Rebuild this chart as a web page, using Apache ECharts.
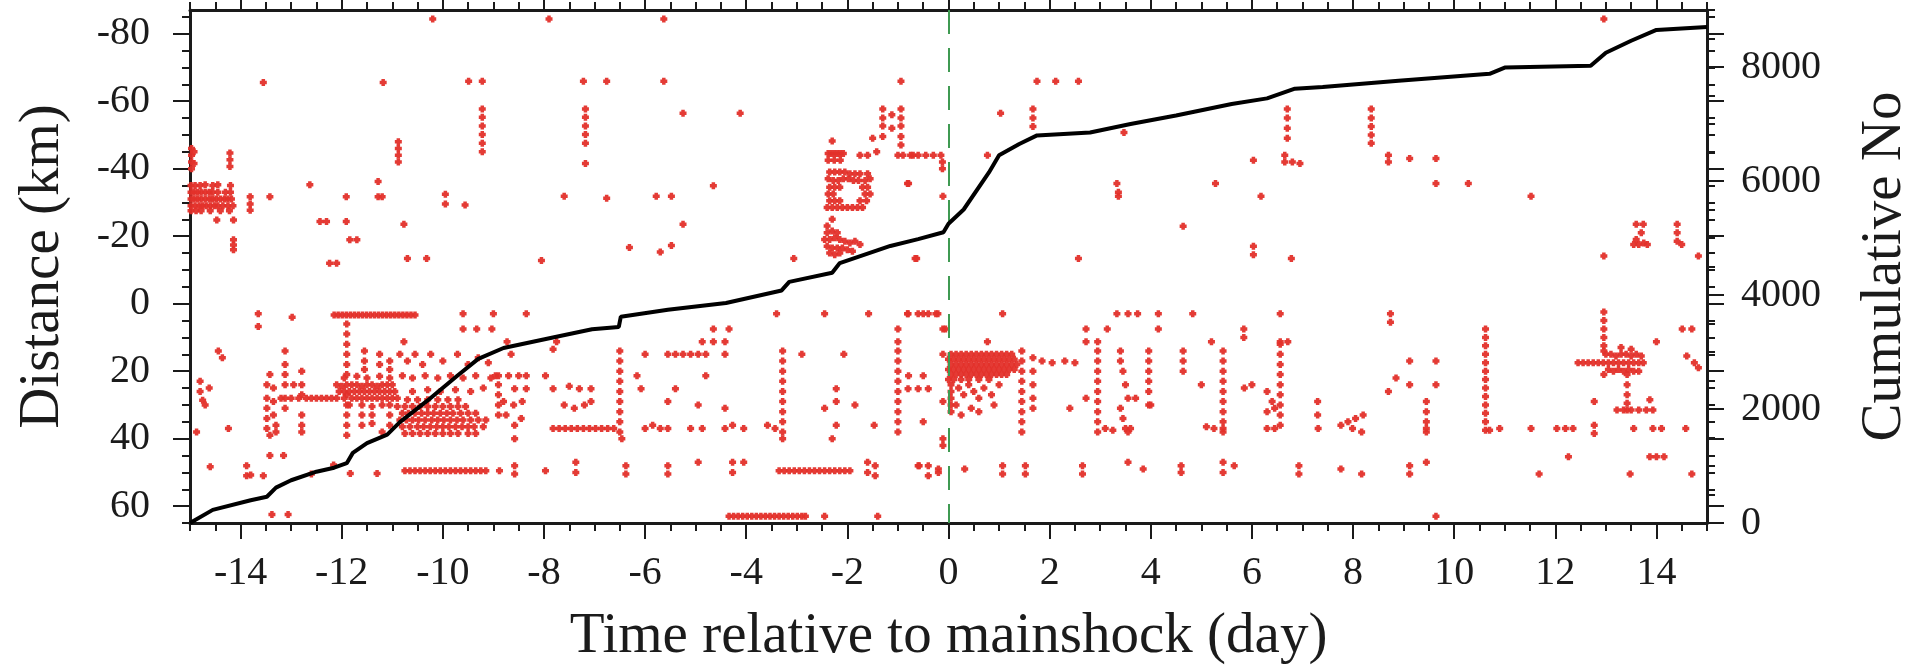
<!DOCTYPE html>
<html>
<head>
<meta charset="utf-8">
<script src="https://cdn.jsdelivr.net/npm/echarts@6/dist/echarts.min.js"></script>
<style>html,body{margin:0;padding:0;background:#fff}#c{width:1907px;height:668px}</style>
</head>
<body>
<div id="c"></div>
<script>
// ---- tick labels ----
const dayTicks = [-14,-12,-10,-8,-6,-4,-2,0,2,4,6,8,10,12,14];
const distTicks = [-80,-60,-40,-20,0,20,40,60];
const distMinorTicks = [-85,-80,-75,-70,-65,-60,-55,-50,-45,-40,-35,-30,-25,-20,-15,-10,-5,0,5,10,15,20,25,30,35,40,45,50,55,60,65];
const countTicks = [0,2000,4000,6000,8000];

// ---- cumulative number of events ----
const cumDays   = [-15,-14.55,-13.8,-13.48,-13.3,-13.0,-12.5,-12.15,-11.9,-11.78,-11.5,-11.1,-10.85,-10.3,-9.72,-9.3,-8.8,-7.8,-7.05,-6.52,-6.48,-5.55,-4.4,-3.3,-3.15,-2.3,-2.15,-1.15,-0.6,-0.1,0.0,0.3,0.8,1.0,1.4,1.75,2.8,3.6,4.5,5.6,6.3,6.85,7.4,8.9,10.7,11.0,12.7,13.0,13.5,14.0,15];
const cumCounts = [0,230,400,460,620,750,900,970,1050,1230,1400,1550,1770,2150,2580,2880,3070,3260,3400,3440,3620,3740,3860,4080,4230,4390,4560,4860,4980,5100,5250,5500,6150,6450,6650,6800,6850,7000,7150,7350,7450,7620,7650,7760,7880,7990,8020,8250,8460,8650,8700];

// ---- events [day, distance km] ----
const eventsWestUpper = [
[-13.55,-65.5],[-11.18,-65.5],[-10.2,-84.3],[-9.49,-65.9],[-9.22,-65.9],
[-14.97,-46],[-14.97,-44],[-14.97,-42],[-14.97,-40],[-14.92,-45],[-14.92,-41.5],
[-14.21,-44.6],[-14.21,-42.6],[-14.21,-40.6],
[-14.98,-35],[-14.9,-35],[-14.8,-35],[-14.7,-35.2],[-14.55,-35],[-14.45,-35.2],[-14.2,-35],
[-14.98,-33],[-14.92,-33],[-14.85,-33],[-14.78,-33],[-14.7,-33],[-14.62,-33],[-14.55,-33],[-14.45,-33],[-14.3,-33],[-14.2,-33],
[-14.98,-31],[-14.92,-31],[-14.85,-31],[-14.78,-31],[-14.7,-31],[-14.62,-31],[-14.55,-31],[-14.48,-31],[-14.4,-31],[-14.32,-31],[-14.25,-31],[-14.18,-31],
[-14.98,-29],[-14.9,-29],[-14.82,-29],[-14.75,-29],[-14.68,-29],[-14.6,-29],[-14.52,-29],[-14.45,-29],[-14.35,-29],[-14.25,-29],[-14.15,-29],
[-14.98,-27.5],[-14.88,-27.5],[-14.78,-27.5],[-14.6,-27.5],[-14.4,-27.5],[-14.22,-27.5],
[-14.47,-24.8],[-14.14,-24.8],[-14.14,-18.9],[-14.14,-17.4],[-14.14,-16],
[-13.81,-31.7],[-13.81,-29.5],[-13.81,-27.7],[-13.42,-31.7],[-12.63,-35.2],[-12.43,-24.3],[-12.3,-24.3],
[-12.24,-12],[-12.1,-12],[-11.91,-31.7],[-11.91,-24.3],[-11.84,-18.9],[-11.7,-18.9],
[-11.28,-36.2],[-11.28,-31.7],[-11.2,-31.7],
[-10.88,-48],[-10.88,-46],[-10.88,-44],[-10.88,-42],
[-10.77,-23.5],[-10.7,-13.4],[-10.32,-13.4],[-9.95,-32.4],[-9.95,-29.5],[-9.56,-29.2],
[-9.22,-57.7],[-9.22,-55.2],[-9.22,-52.6],[-9.22,-50.1],[-9.22,-47.5],[-9.22,-45]
];
const eventsWestLower = [
[-13.65,3],[-13.65,6.8],[-12.98,4],[-14.44,14],[-14.36,16],
[-14.8,23],[-14.8,26],[-14.75,28.6],[-14.7,30],[-14.62,25],
[-14.87,38],[-14.24,37],[-14.6,48.3],[-13.88,48],[-13.88,51],[-13.8,50.8],[-13.55,51],[-13.42,45],[-13.15,45],
[-13.48,24],[-13.48,28],[-13.48,31],[-13.48,34],[-13.48,37],[-13.42,39],[-13.35,25],[-13.35,29],[-13.35,33],[-13.3,36],[-13.3,38],[-13.42,21],
[-13.12,14],[-13.12,18],[-13.12,21],[-13.12,24],[-13.12,28],[-13.12,31],
[-12.95,24],[-12.85,28],
[-12.79,20],[-12.79,24],[-12.79,27],[-12.79,33],[-12.79,36],[-12.79,38],
[-13.2,28],[-13.0,28],[-12.7,28],[-12.6,28],[-12.5,28],[-12.4,28],[-12.3,28],[-12.2,28],
[-12.15,3.4],[-12.07,3.4],[-11.99,3.4],[-11.91,3.4],[-11.83,3.4],[-11.75,3.4],[-11.67,3.4],[-11.59,3.4],[-11.51,3.4],[-11.43,3.4],[-11.35,3.4],[-11.27,3.4],[-11.19,3.4],[-11.11,3.4],[-11.03,3.4],[-10.95,3.4],[-10.87,3.4],[-10.79,3.4],[-10.71,3.4],[-10.63,3.4],[-10.55,3.4],
[-11.9,6],[-11.9,9],[-11.9,12],[-11.9,15],[-11.9,18],[-11.9,21],[-11.9,24],[-11.9,27],[-11.9,30],[-11.9,33],[-11.9,36],[-11.9,39],
[-12.1,24],[-12.0,24.5],[-11.8,24],[-11.7,24],[-11.6,24.5],[-11.5,24],[-11.4,24],[-11.3,24.5],[-11.2,24],[-11.1,24],[-11.0,24],
[-12.05,26],[-11.95,26],[-11.85,26],[-11.75,26],[-11.65,26],[-11.55,26],[-11.45,26],[-11.35,26],[-11.25,26],[-11.15,26],[-11.05,26],[-10.95,26],
[-12.1,28],[-11.95,28],[-11.8,28],[-11.7,28],[-11.6,28],[-11.5,28],[-11.4,28],[-11.3,28],[-11.2,28],[-11.1,28],[-11.0,28],[-10.9,28],
[-11.85,30],[-11.6,30],[-11.4,30.5],[-11.2,30],[-11.05,30],[-10.9,30.5],
[-11.95,22],[-11.7,21.5],[-11.5,22],[-11.25,21.5],[-11.05,22],
[-11.55,14],[-11.55,17],[-11.55,19.5],[-11.25,15],[-11.25,18],[-11.05,17],[-11.05,19.5],[-11.4,33],[-11.4,35.5],[-11.6,33],[-11.6,36],[-11.05,33],[-11.05,36],[-11.2,38],
[-11.3,50.3],[-11.83,50.3],[-12.16,47.8],[-12.6,50.5],[-13.38,62.5],[-13.06,62.5],
[-10.75,38.5],[-10.6,38.5],[-10.45,38.5],[-10.3,38.5],[-10.15,38.5],[-10.0,38.5],[-9.85,38.5],[-9.7,38.5],[-9.5,38.5],[-9.35,38.5],
[-10.8,36.5],[-10.65,36.5],[-10.5,36.5],[-10.38,36.5],[-10.25,36.5],[-10.12,36.5],[-10.0,36.5],[-9.88,36.5],[-9.75,36.5],[-9.62,36.5],[-9.5,36.5],[-9.38,36.5],[-9.2,36.5],
[-10.85,34.5],[-10.72,34.5],[-10.6,34.5],[-10.48,34.5],[-10.35,34.5],[-10.22,34.5],[-10.1,34.5],[-9.98,34.5],[-9.85,34.5],[-9.72,34.5],[-9.6,34.5],[-9.45,34.5],[-9.3,34.5],[-9.15,34.5],
[-10.8,32.5],[-10.68,32.5],[-10.55,32.5],[-10.42,32.5],[-10.3,32.5],[-10.18,32.5],[-10.05,32.5],[-9.92,32.5],[-9.8,32.5],[-9.65,32.5],[-9.5,32.5],[-9.35,32.5],
[-10.75,30.5],[-10.6,30.5],[-10.45,30.5],[-10.3,30.5],[-10.15,30.5],[-10.0,30.5],[-9.85,30.5],[-9.7,30.5],[-9.55,30.5],
[-10.7,28.5],[-10.5,28.5],[-10.3,28.5],[-10.1,28.5],[-9.9,28.5],[-9.7,28.5],
[-10.6,26],[-10.3,25.5],[-10.05,26],[-9.75,25.5],[-9.45,26],[-9.2,25],
[-10.8,21.4],[-10.6,22],[-10.35,21.4],[-10.1,22],[-9.85,21.4],[-9.6,22],[-9.35,21.4],[-9.05,22],[-8.9,21.4],
[-10.85,15],[-10.7,17],[-10.55,15],[-10.4,18],[-10.24,15],[-10.0,17],[-9.71,15],[-9.5,18],[-9.3,16],[-9.1,17.5],
[-10.77,11.3],[-9.6,7.5],[-9.33,7.5],[-9.03,7.5],[-9.6,3],[-9.0,3],
[-10.75,49.5],[-10.65,49.5],[-10.55,49.5],[-10.45,49.5],[-10.35,49.5],[-10.25,49.5],[-10.15,49.5],[-10.05,49.5],[-9.95,49.5],[-9.85,49.5],[-9.75,49.5],[-9.65,49.5],[-9.55,49.5],[-9.45,49.5],[-9.35,49.5],[-9.25,49.5],[-9.15,49.5]
];
const eventsPreUpper = [
[-7.9,-84.3],[-5.63,-84.3],[-7.22,-65.9],[-6.76,-65.9],[-5.63,-65.9],[-0.94,-65.9],
[-7.18,-57.7],[-7.18,-55.2],[-7.18,-52.6],[-7.18,-50.1],[-7.18,-47.5],[-7.18,-41.5],
[-5.25,-56.4],[-4.12,-56.4],
[-1.3,-57.7],[-1.3,-55],[-1.3,-52.6],[-1.3,-49.5],[-0.94,-57.7],[-0.94,-55],[-0.94,-52.6],[-0.94,-49.5],[-0.94,-47],[-1.12,-56],[-1.12,-52],[-1.5,-49],
[-2.3,-48.2],
[-2.38,-44.5],[-2.32,-44.5],[-2.26,-44.5],[-2.2,-44.5],[-2.14,-44.5],[-2.08,-44.5],[-2.38,-42.5],[-2.26,-42.5],[-2.14,-42.5],[-1.75,-44],[-1.6,-44],[-1.42,-45],[-1.0,-44],[-0.7,-44],[-0.45,-44],[-0.15,-44],[-0.12,-42],[-0.12,-40],
[-2.35,-39],[-2.25,-39],[-2.15,-39],[-2.05,-39],[-1.95,-38.5],[-1.85,-38.5],[-1.75,-38.5],[-1.6,-38.5],
[-2.38,-37],[-2.28,-36.5],[-2.18,-36.5],[-2.08,-37],[-1.98,-37],[-1.88,-36.5],[-1.78,-36.5],[-1.65,-36.5],[-1.55,-37],
[-2.35,-34.5],[-2.25,-34.5],[-2.15,-34.5],[-1.7,-34.5],[-1.6,-34.5],
[-2.38,-32.5],[-2.28,-32.5],[-1.65,-32.5],[-1.55,-32.5],
[-2.35,-30.5],[-2.25,-30.5],[-2.15,-30.5],[-1.75,-30.5],[-1.62,-30.5],
[-2.4,-28.5],[-2.3,-28.5],[-2.2,-28.5],[-2.1,-28.5],[-2.0,-28.5],[-1.9,-28.5],[-1.8,-28.5],[-1.7,-28.5],
[-2.45,-19],[-2.35,-19],[-2.25,-19.5],[-2.15,-19],[-2.05,-18.5],[-1.95,-18],[-1.85,-18.5],[-1.75,-17.5],[-2.4,-17],[-2.3,-16.5],[-2.2,-16.5],[-2.1,-16.5],[-2.0,-16],[-1.9,-15.5],[-2.35,-15],[-2.25,-14.5],[-2.15,-15],[-2.4,-21],[-2.3,-21.5],[-2.2,-21],[-2.4,-23],[-2.3,-25],
[-0.79,-35.6],[-0.11,-31.8],[-4.65,-34.9],
[-7.6,-31.8],[-6.76,-31.2],[-5.78,-31.8],[-5.48,-31.8],[-5.25,-23.5],[-6.31,-16.6],[-5.7,-15.3],[-5.48,-17.2],[-8.05,-12.8],[-3.06,-13.4],[-0.63,-13.4]
];
const eventsPreLower = [
[-8.35,3],[-3.4,3],[-2.45,3],[-1.58,3],[-0.8,3],[-0.6,3],[-0.4,3],[-0.25,3],
[-4.65,7.5],[-4.34,7.5],[-1.0,7.5],[-0.11,7.5],
[-8.73,11.3],[-7.75,11.3],[-4.87,11.3],[-4.65,11.3],[-4.42,11.3],[-1.0,11.3],
[-8.65,15],[-7.82,13.5],[-6.0,15],[-5.55,15],[-5.4,15],[-5.25,15],[-5.1,15],[-4.95,15],[-4.8,15],[-4.42,15],[-2.9,15],[-2.07,15],[-0.11,15],
[-8.96,21.4],[-8.7,21.4],[-8.5,21.4],[-8.35,21.4],[-7.97,21.4],[-6.16,21.4],[-4.8,21.4],[-0.79,21.4],[-0.5,21.4],
[-8.58,25.2],[-8.35,25.2],[-7.82,25.2],[-7.5,24.5],[-7.3,25.2],[-7.07,25.2],[-6.08,25.2],[-5.4,25.2],[-2.22,25.2],[-0.8,25.2],[-0.6,25.2],[-0.4,25.2],
[-8.8,29],[-8.6,30],[-8.43,29],[-7.6,30],[-7.4,31],[-7.2,30],[-7.07,29],[-5.55,29],[-4.95,30],[-4.42,31],[-2.45,31],[-2.22,29],[-1.85,30],[-0.11,29],
[-8.75,33],[-8.58,36],[-8.45,34],
[-7.82,37],[-7.7,37],[-7.58,37],[-7.46,37],[-7.34,37],[-7.22,37],[-7.1,37],[-6.98,37],[-6.86,37],[-6.74,37],[-6.62,37],
[-6.0,37],[-5.85,36],[-5.7,37],[-5.55,37],[-5.1,37],[-4.87,37],[-4.42,37],[-4.27,36],[-4.05,37],[-3.58,36],[-3.43,37],[-2.22,36],[-1.47,36],[-0.5,35],
[-8.58,40],[-6.46,40],[-2.3,40],[-0.11,40],[-0.11,42],
[-6.5,14],[-6.5,17],[-6.5,20],[-6.5,23],[-6.5,26],[-6.5,29],[-6.5,32],[-6.5,35],[-6.5,38],
[-3.28,14],[-3.28,17],[-3.28,20],[-3.28,23],[-3.28,26],[-3.28,29],[-3.28,32],[-3.28,35],[-3.28,38],[-3.28,40],
[-1.0,14],[-1.0,17],[-1.0,20],[-1.0,23],[-1.0,26],[-1.0,29],[-1.0,32],[-1.0,35],[-1.0,38],
[-8.9,24],[-8.9,27],[-8.9,30],[-8.9,33],
[-8.88,49.5],[-8.58,48],[-8.58,50.5],[-7.97,49.5],[-7.37,47],[-7.37,50],[-6.38,48],[-6.38,50.5],[-5.55,48],[-5.55,50.5],[-4.95,47],[-4.27,47],[-4.27,50],[-4.05,47],
[-3.35,49.5],[-3.25,49.5],[-3.15,49.5],[-3.05,49.5],[-2.95,49.5],[-2.85,49.5],[-2.75,49.5],[-2.65,49.5],[-2.55,49.5],[-2.45,49.5],[-2.35,49.5],[-2.25,49.5],[-2.15,49.5],[-2.05,49.5],[-1.95,49.5],
[-1.6,47],[-1.6,50],[-1.45,48],[-1.45,51],[-0.6,48],[-0.4,48],[-0.4,51],[-0.2,50],
[-4.34,63],[-4.25,63],[-4.16,63],[-4.07,63],[-3.98,63],[-3.89,63],[-3.8,63],[-3.71,63],[-3.62,63],[-3.53,63],[-3.44,63],[-3.35,63],[-3.26,63],[-3.17,63],[-3.08,63],[-2.99,63],[-2.9,63],[-2.83,63],[-2.45,63],[-1.4,63]
];
const eventsPostUpper = [
[1.75,-65.9],[2.12,-65.9],[2.57,-65.9],[12.96,-84.3],
[1.03,-56.4],[1.67,-57.7],[1.67,-55],[1.67,-52.5],[6.7,-57.7],[6.7,-55],[6.7,-52],[6.7,-49],[8.36,-57.7],[8.36,-55],[8.36,-52.5],[8.36,-50],[8.36,-47.5],
[3.47,-50.7],
[-0.9,-44],[-0.75,-44],[-0.6,-44],[-0.3,-44],[0.77,-44],[6.03,-42.5],[6.65,-44],[6.65,-42],[6.8,-42],[6.95,-41.5],[8.7,-44],[8.7,-42],[9.12,-43],[9.64,-43],
[-0.81,-35.6],[3.33,-35.6],[5.28,-35.6],[9.64,-35.6],[10.28,-35.6],
[3.36,-31.8],[3.36,-33],[6.18,-31.8],[4.64,-22.9],
[-0.66,-13.4],[2.57,-13.4],[6.03,-17],[6.03,-14.5],[6.78,-13.4],
[11.52,-31.8],
[13.6,-23.5],[13.74,-23.5],[13.7,-21],[13.6,-19],[13.75,-18],[13.65,-17.5],[13.82,-17.5],[13.55,-17.5],[14.41,-23.5],[14.41,-21],[14.41,-18.5],[14.5,-17.5],
[12.96,-14.1],[14.83,-14.1]
];
const eventsPostLower = [
[-0.81,3],[-0.5,3],[-0.21,3],[1.07,3],[3.33,3],[3.55,3],[3.74,3],[4.15,3],[4.83,3],[6.56,3],[8.74,3],[8.74,5.5],
[12.96,2.5],[12.96,5],[12.96,7.5],[12.96,10],[12.96,12.5],
[-0.06,7.5],[2.72,7.5],[3.14,7.5],[4.15,7.5],[5.84,7.5],[5.84,10],[14.51,7.5],[14.7,7.5],
[0.77,11.3],[2.72,11.3],[5.2,11.3],[6.56,11.3],[6.71,11.3],[14.0,11.3],
[0.05,15],[0.15,15],[0.25,15],[0.35,15],[0.45,15],[0.55,15],[0.65,15],[0.75,15],[0.85,15],[0.95,15],[1.05,15],[1.15,15],[1.25,15],
[0.0,16.5],[0.1,16.5],[0.2,16.5],[0.3,16.5],[0.4,16.5],[0.5,16.5],[0.6,16.5],[0.7,16.5],[0.8,16.5],[0.9,16.5],[1.0,16.5],[1.1,16.5],[1.2,16.5],[1.3,16.5],
[0.05,18],[0.15,18],[0.25,18],[0.35,18],[0.45,18],[0.55,18],[0.65,18],[0.75,18],[0.85,18],[0.95,18],[1.05,18],[1.15,18],[1.25,18],[1.35,18],
[0.0,19.5],[0.1,19.5],[0.2,19.5],[0.3,19.5],[0.4,19.5],[0.5,19.5],[0.6,19.5],[0.7,19.5],[0.8,19.5],[0.9,19.5],[1.0,19.5],[1.1,19.5],[1.2,19.5],[1.3,19.5],
[0.05,21],[0.15,21],[0.25,21],[0.35,21],[0.45,21],[0.55,21],[0.65,21],[0.75,21],[0.85,21],[0.95,21],[1.05,21],[1.15,21],
[0.0,22.5],[0.1,22.5],[0.25,22.5],[0.4,22.5],[0.6,22.5],[0.8,22.5],
[0.05,24],[0.05,26],[0.05,28],[0.05,30],[0.05,32],[0.2,25],[0.3,27],[0.4,24],[0.5,26],[0.6,28],[0.7,25],[0.85,27],[1.0,24],[0.15,30],[0.45,31],[0.9,30],[0.25,33],[0.6,32],
[1.45,14],[1.45,17],[1.45,20],[1.45,23],[1.45,26],[1.45,29],[1.45,32],[1.45,35],[1.45,38],
[1.67,16],[1.67,20],[1.67,24],[1.67,28],[1.67,31],
[1.85,17],[2.05,17.5],[2.3,17],[2.5,17.5],
[2.95,11.3],[2.95,14],[2.95,17],[2.95,20],[2.95,23],[2.95,26],[2.95,29],[2.95,32],[2.95,35],[2.95,38],
[3.4,14],[3.4,17],[3.45,20],[3.5,24],[3.55,28],[3.4,31],[3.45,34],[3.5,37],[3.55,38],
[3.96,14],[3.96,17],[3.96,20],[3.96,23],[3.96,26],[3.96,30],
[4.64,14],[4.64,17],[4.64,20],
[5.43,14],[5.43,17],[5.43,20],[5.43,23],[5.43,26],[5.43,29],[5.43,32],[5.43,35],[5.43,38],
[6.56,12],[6.56,15],[6.56,18],[6.56,21],[6.56,24],[6.56,27],[6.56,30],[6.56,33],[6.56,36],[6.3,26],[6.4,29],[6.3,32],[6.45,31],
[9.45,29],[9.45,32],[9.45,35],[9.45,38],
[10.62,7.5],[10.62,10],[10.62,12.5],[10.62,15],[10.62,17.5],[10.62,20],[10.62,22.5],[10.62,25],[10.62,27.5],[10.62,30],[10.62,32.5],[10.62,35],[10.62,37.5],[10.7,37.5],
[8.7,26],[9.12,24],[9.64,24],[8.85,22],[9.64,17],[9.12,17],[7.3,29],[7.3,33],[7.9,35],[8.05,34],[8.2,33],[4.0,30],[3.7,28],[2.4,31],[2.72,28],[5.0,24],[5.85,25],[6.0,24],
[3.1,37],[3.25,37.5],[3.6,37],[5.1,36.5],[5.25,37],[5.43,37],[6.3,37],[6.45,37],[7.31,37],[7.76,36],[7.99,37],[8.17,38],[9.45,37],[10.9,37],[11.52,37],[12.03,37],[12.2,37],[12.35,37],[12.77,36],[12.77,38.5],[13.55,37],[13.93,37],[14.1,37],[14.58,37],
[-0.58,48],[-0.2,49],[0.32,49],[1.07,48],[1.07,50.5],[1.52,48],[1.52,50.5],[2.65,48],[2.65,50.5],[3.55,47],[3.85,49],[4.6,48],[4.6,50],[5.43,47],[5.43,50],[5.65,48],[6.93,48],[6.93,50.5],[7.76,49],[8.17,50.5],[9.12,48],[9.12,50.5],[9.45,47],[11.68,50.5],[13.48,50.5],[14.7,50.5],[12.26,45.4],[13.87,45.4],[14.0,45.4],[14.15,45.4],
[9.64,63],
[12.45,17.5],[12.55,17.5],[12.65,17.5],[12.75,17.5],[12.85,17.5],[12.95,17.5],[13.05,17.5],[13.15,17.5],[13.25,17.5],[13.35,17.5],[13.45,17.5],[13.55,17.5],[13.65,17.5],[13.74,17.5],
[13.0,15],[13.1,15],[13.2,15.5],[13.3,15],[13.4,15],[13.5,15.5],[13.6,15],[13.7,15.5],
[13.05,19.5],[13.15,20],[13.25,19.5],[13.35,20],[13.45,19.5],[13.55,20],[13.65,20],
[12.96,14],[12.96,21],[13.3,13],[13.5,13.5],
[13.42,21],[13.42,24],[13.42,27],[13.42,29.5],[13.42,31.5],
[13.22,31.5],[13.35,31.5],[13.5,31.5],[13.65,31.5],[13.8,31.5],[13.93,31.5],
[12.77,29],[13.87,28.5],[14.6,15.5],[14.75,17.5],[14.83,19]
];

const FONT = '"Liberation Serif", "DejaVu Serif", serif';
const TXT = '#1b1b1b';
const LINE = '#1a1a1a';
const allEvents = [].concat(eventsWestUpper, eventsWestLower, eventsPreUpper, eventsPreLower, eventsPostUpper, eventsPostLower);
const cumData = cumDays.map((d, i) => [d, cumCounts[i]]);

const chart = echarts.init(document.getElementById('c'), null, {renderer: 'canvas'});
const tickStyle = {color: LINE, width: 2};
const noSplit = {show: false};
const plainNum = v => String(v);

chart.setOption({
  animation: false,
  backgroundColor: '#ffffff',
  grid: {left: 190, right: 200, top: 10, bottom: 145, containLabel: false, outerBoundsMode: 'none'},
  xAxis: [
    {type: 'value', position: 'bottom', min: -15, max: 15, interval: 0.5,
     axisLine: {show: true, onZero: false, lineStyle: {color: LINE, width: 3}},
     axisTick: {show: true, length: 8, lineStyle: tickStyle},
     axisLabel: {show: false}, splitLine: noSplit},
    {type: 'value', position: 'bottom', min: -15, max: 15,
     axisLine: {show: false, onZero: false},
     axisTick: {show: true, length: 16, customValues: dayTicks, lineStyle: tickStyle},
     axisLabel: {show: true, customValues: dayTicks, formatter: plainNum, fontFamily: FONT, fontSize: 40, color: TXT, margin: 30},
     splitLine: noSplit,
     name: 'Time relative to mainshock (day)', nameLocation: 'middle', nameGap: 86,
     nameTextStyle: {fontFamily: FONT, fontSize: 57, color: TXT}},
    {type: 'value', position: 'top', min: -15, max: 15, interval: 0.5,
     axisLine: {show: true, onZero: false, lineStyle: {color: LINE, width: 3}},
     axisTick: {show: true, length: 8, lineStyle: tickStyle},
     axisLabel: {show: false}, splitLine: noSplit},
    {type: 'value', position: 'top', min: -15, max: 15,
     axisLine: {show: false, onZero: false},
     axisTick: {show: true, length: 16, customValues: dayTicks, lineStyle: tickStyle},
     axisLabel: {show: false}, splitLine: noSplit}
  ],
  yAxis: [
    {type: 'value', position: 'left', min: -87, max: 65, inverse: true,
     axisLine: {show: true, onZero: false, lineStyle: {color: LINE, width: 3}},
     axisTick: {show: true, length: 8, customValues: distMinorTicks, lineStyle: tickStyle},
     axisLabel: {show: false}, splitLine: noSplit},
    {type: 'value', position: 'left', min: -87, max: 65, inverse: true,
     axisLine: {show: false, onZero: false},
     axisTick: {show: true, length: 17, customValues: distTicks, lineStyle: tickStyle},
     axisLabel: {show: true, customValues: distTicks, formatter: plainNum, fontFamily: FONT, fontSize: 40, color: TXT, margin: 40},
     splitLine: noSplit,
     name: 'Distance (km)', nameLocation: 'middle', nameGap: 118, nameRotate: 90,
     nameTextStyle: {fontFamily: FONT, fontSize: 57, color: TXT}},
    {type: 'value', position: 'right', min: 0, max: 9000, interval: 500,
     axisLine: {show: true, onZero: false, lineStyle: {color: LINE, width: 3}},
     axisTick: {show: true, length: 8, lineStyle: tickStyle},
     axisLabel: {show: false}, splitLine: noSplit},
    {type: 'value', position: 'right', min: 0, max: 9000,
     axisLine: {show: false, onZero: false},
     axisTick: {show: true, length: 17, customValues: countTicks, lineStyle: tickStyle},
     axisLabel: {show: true, customValues: countTicks, formatter: plainNum, fontFamily: FONT, fontSize: 40, color: TXT, margin: 34},
     splitLine: noSplit,
     name: 'Cumulative No', nameLocation: 'middle', nameGap: 150, nameRotate: 90,
     nameTextStyle: {fontFamily: FONT, fontSize: 57, color: TXT}},
    {type: 'value', position: 'right', min: -87, max: 65, inverse: true,
     axisLine: {show: false, onZero: false},
     axisTick: {show: true, length: 8, customValues: distMinorTicks, lineStyle: tickStyle},
     axisLabel: {show: false}, splitLine: noSplit},
    {type: 'value', position: 'right', min: -87, max: 65, inverse: true,
     axisLine: {show: false, onZero: false},
     axisTick: {show: true, length: 17, customValues: distTicks, lineStyle: tickStyle},
     axisLabel: {show: false}, splitLine: noSplit}
  ],
  series: [
    {type: 'scatter', name: 'events', xAxisIndex: 0, yAxisIndex: 0,
     symbol: 'path://M1,0H3V1H4V3H3V4H1V3H0V1H1Z', symbolSize: 7,
     itemStyle: {color: '#e3302a', opacity: 0.95},
     data: allEvents, z: 2,
     markLine: {silent: true, symbol: ['none', 'none'], label: {show: false},
       lineStyle: {color: '#3f9a52', width: 2, type: [24, 14]},
       data: [{xAxis: 0}]}},
    {type: 'line', name: 'cumulative', xAxisIndex: 0, yAxisIndex: 2,
     data: cumData, showSymbol: false, symbol: 'none',
     lineStyle: {color: '#000', width: 4}, z: 5}
  ]
});
</script>
</body>
</html>
